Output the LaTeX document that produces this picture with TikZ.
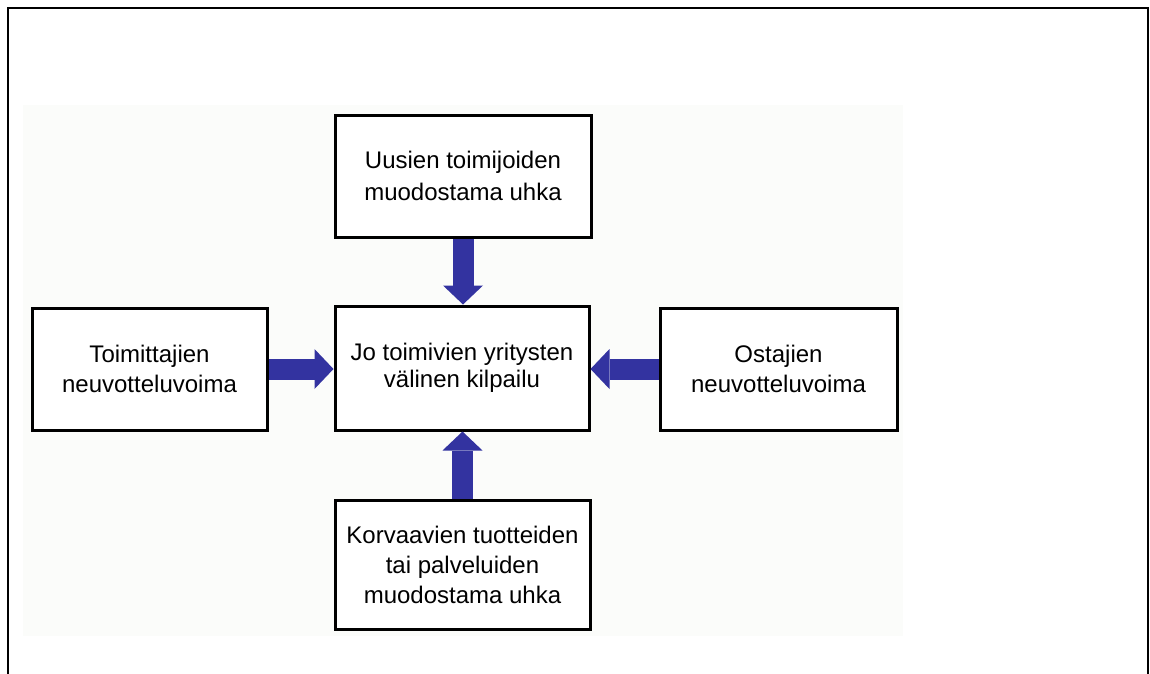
\documentclass[tikz,border=0pt]{standalone}
\usepackage{fontspec}
\setmainfont{Liberation Sans}
\usetikzlibrary{arrows.meta}
\definecolor{arrowblue}{RGB}{51,51,160}
\definecolor{panelgray}{RGB}{251,252,250}
\begin{document}
\begin{tikzpicture}[x=1pt,y=-1pt,
  box/.style={draw=black, line width=3pt, fill=white, inner sep=0pt, align=center,
    font=\fontsize{24}{30}\selectfont},
  force/.style={draw=arrowblue, line width=21pt,
    -{Triangle[width=40pt,length=19pt,line width=0pt]}},
  frame/.style={draw=black, line width=2pt}]
\useasboundingbox (0,0) rectangle (1150,673);
\fill[panelgray] (23,105) rectangle (903,636);
\draw[frame] (8,680) -- (8,8) -- (1148,8) -- (1148,680);

\node[box, minimum width=256pt, minimum height=122pt, font=\fontsize{24}{32}\selectfont]
  (new) at (463,176) {Uusien toimijoiden\\muodostama uhka};
\node[box, minimum width=254pt, minimum height=124pt, font=\fontsize{24}{27}\selectfont]
  (rivalry) at (462,368) {Jo toimivien yritysten\\välinen kilpailu};
\node[box, minimum width=235pt, minimum height=122pt]
  (suppliers) at (149.5,369) {Toimittajien\\neuvotteluvoima};
\node[box, minimum width=237pt, minimum height=122pt]
  (buyers) at (778.5,369) {Ostajien\\neuvotteluvoima};
\node[box, minimum width=255pt, minimum height=129pt]
  (subst) at (462.5,564.5) {Korvaavien tuotteiden\\tai palveluiden\\muodostama uhka};

\draw[force] (new.south) -- (new.south |- rivalry.north);
\draw[force] (subst.north) -- (subst.north |- rivalry.south);
\draw[force] (suppliers.east) -- (suppliers.east -| rivalry.west);
\draw[force] (buyers.west) -- (buyers.west -| rivalry.east);
\end{tikzpicture}
\end{document}
